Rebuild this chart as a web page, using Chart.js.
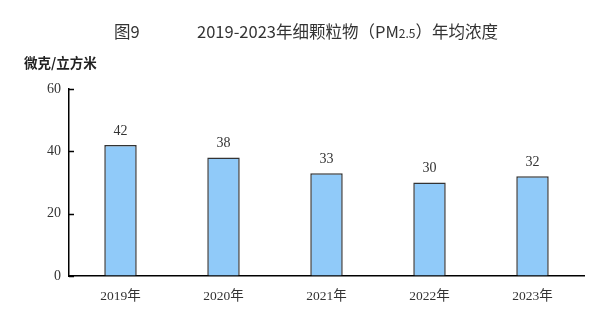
<!DOCTYPE html>
<html>
<head>
<meta charset="utf-8">
<script src="https://cdn.jsdelivr.net/npm/chart.js@4/dist/chart.umd.min.js"></script>
<style>
  body { margin: 0; background: #fff; }
  #box { width: 599px; height: 326px; position: relative; }
</style>
</head>
<body>
<div id="box"><canvas id="miGrafica"></canvas></div>
<script>
// datos de la grafica
const anios = ["2019年", "2020年", "2021年", "2022年", "2023年"];
const pm25 = [42, 38, 33, 30, 32];
const ticksY = [0, 20, 40, 60];

const serif = '"Liberation Serif", "DejaVu Serif", "Noto Sans CJK SC", serif';
const cjk = '"Noto Sans CJK SC", "Noto Sans", sans-serif';

// titulo, marcas hacia dentro y etiquetas encima de las barras
const textos = {
  id: "textos",
  afterDraw(chart) {
    const ctx = chart.ctx;
    const y = chart.scales.y;
    ctx.save();
    // marcas del eje y (hacia dentro)
    ctx.strokeStyle = "#000";
    ctx.lineWidth = 1.5;
    y.ticks.forEach(t => {
      const py = Math.round(y.getPixelForValue(t.value)) + 0.5;
      ctx.beginPath();
      ctx.moveTo(y.right, py);
      ctx.lineTo(y.right + 5, py);
      ctx.stroke();
    });
    ctx.fillStyle = "#333";
    ctx.textBaseline = "middle";
    // titulo
    ctx.font = "16.5px " + cjk;
    ctx.textAlign = "left";
    ctx.fillText("图9", 114, 32);
    let x = 197;
    const partes = [["2019-2023年细颗粒物（PM", 16.5], ["2.5", 12], ["）年均浓度", 16.5]];
    partes.forEach(p => {
      ctx.font = p[1] + "px " + cjk;
      ctx.fillText(p[0], x, 32 + (p[1] < 16 ? 1 : 0));
      x += ctx.measureText(p[0]).width;
    });
    // unidad
    ctx.font = "bold 13.5px " + cjk;
    ctx.fillStyle = "#222";
    ctx.fillText("微克/立方米", 24, 63);
    // valores
    ctx.fillStyle = "#333";
    ctx.font = "14px " + serif;
    ctx.textAlign = "center";
    ctx.textBaseline = "bottom";
    chart.getDatasetMeta(0).data.forEach((bar, i) => {
      ctx.fillText(pm25[i], bar.x, bar.y - 7);
    });
    ctx.restore();
  }
};

const micanvas = document.getElementById("miGrafica").getContext("2d");
new Chart(micanvas, {
  type: "bar",
  data: {
    labels: anios,
    datasets: [{
      data: pm25,
      backgroundColor: "#90CAF9",
      borderColor: "#333",
      borderWidth: 1.5,
      barPercentage: 0.315,
      categoryPercentage: 1
    }]
  },
  options: {
    responsive: true,
    maintainAspectRatio: false,
    animation: false,
    layout: { padding: { top: 89, right: 15, left: 0, bottom: 0 } },
    plugins: {
      legend: { display: false },
      tooltip: { enabled: false }
    },
    scales: {
      x: {
        grid: { display: false },
        border: { color: "#000", width: 1.5 },
        ticks: { color: "#333", font: { family: serif, size: 13.5 }, padding: 4 },
        afterFit: (s) => { s.height = 50; }
      },
      y: {
        min: 0,
        max: 60,
        afterBuildTicks: (s) => { s.ticks = ticksY.map(v => ({ value: v })); },
        grid: { drawOnChartArea: false, drawTicks: false },
        border: { color: "#000", width: 1.5 },
        ticks: { color: "#333", font: { family: serif, size: 14 }, padding: 8 },
        afterFit: (s) => { s.width = 69; }
      }
    }
  },
  plugins: [textos]
});
</script>
</body>
</html>
